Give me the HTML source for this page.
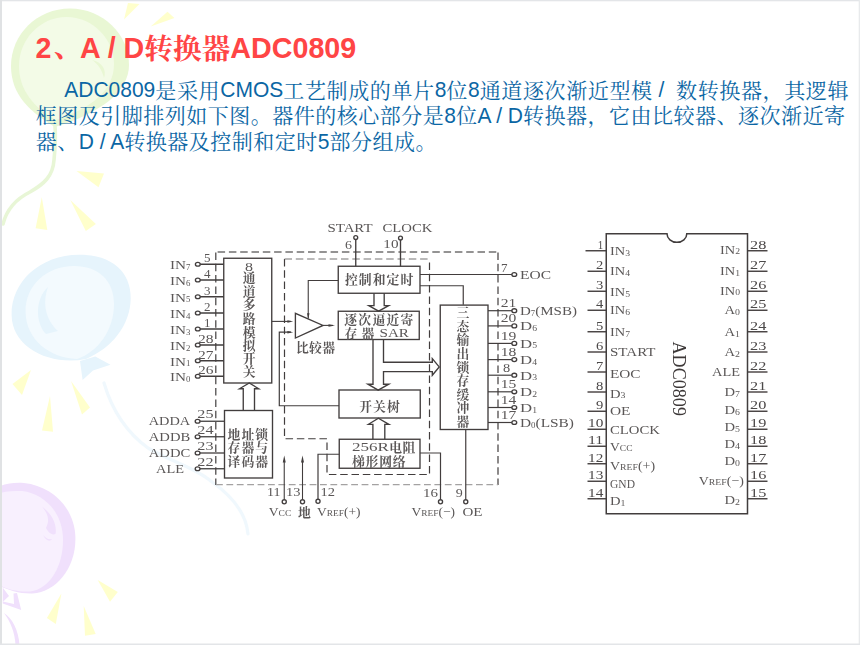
<!DOCTYPE html>
<html><head><meta charset="utf-8"><title>ADC0809</title>
<style>
html,body{margin:0;padding:0;background:#fff}
body{width:860px;height:645px;overflow:hidden;position:relative;font-family:"Liberation Sans",sans-serif}
svg{position:absolute;left:0;top:0;display:block}
text{white-space:pre}
.tc{font-family:"Liberation Sans","Noto Serif CJK SC",serif;font-size:28.67px;font-weight:bold}
.pc{font-family:"Liberation Sans","Noto Serif CJK SC",serif;font-size:21px}
.cj{font-family:"Liberation Serif","Noto Serif CJK SC",serif;font-size:12.8px;font-weight:bold}
</style></head><body>
<svg width="860" height="645" viewBox="0 0 860 645">
<g id="bg"><rect x="0" y="0" width="860" height="645" fill="#ffffff"/>
<path d="M55 127 C30 112 11 95 11 66 C11 34.2 37.4 8.5 70 8.5 C102.6 8.5 129 34.2 129 65 C129 92 100 113 55 127 Z" fill="#e9f7d4"/>
<path d="M56 120 C34 108 19 90 19 66 C19 39 40.3 17 66.5 17 C92.7 17 114 39 114 64 C114 90 92 108 56 120 Z" fill="#f3fbe7"/>
<path d="M92 60 C102 62 107 70 104 78 C102 70 98 64 92 60 Z" fill="#e9f7d4"/>
<path d="M55 126 C56 138 55 150 54 160 C53 176 44 184 30 192 C14 200 6 212 3 224" fill="none" stroke="#e8f6d6" stroke-width="3.6" stroke-linecap="round"/>
<polygon points="128.0,3.0 139.5,4.0 124.0,19.5" fill="#ffffcc"/>
<polygon points="150.7,26.5 167.5,11.7 174.4,18.0" fill="#ffffcc"/>
<polygon points="76.5,170.9 104.0,173.4 98.5,187.3" fill="#ffffcc"/>
<polygon points="41.8,197.2 35.6,228.2 47.3,230.0" fill="#ffffcc"/>
<polygon points="70.3,199.9 95.9,224.1 85.8,230.9" fill="#ffffcc"/>
<path d="M86 359 C50 366 12 348 11.6 315 C11 282 40 255 79 254.8 C112 254.6 131 272 130.7 298.5 C130.4 325 112 348 86 359 Z" fill="#e6f4fc"/>
<path d="M77 359 C50 358 26 340 25.6 312 C25.2 286 46 266 74 266 C98 266 114 280 114 304 C114 330 98 352 77 359 Z" fill="#f3fafe"/>
<path d="M48 287 C34 300 36 324 46 334 L58 331 C46 320 42 304 48 287 Z" fill="#e6f4fc"/>
<path d="M80 361 L95.3 356.6 L110.5 364.8 L93 370.6 L82.6 379.9 Z" fill="#e6f4fc"/>
<path d="M104 383 C112 410 126 432 148 448 C172 462 196 468 212 482 C232 496 246 512 248 534" fill="none" stroke="#f0f8fd" stroke-width="3.2" stroke-linecap="round"/>
<polygon points="12.5,384.0 31.0,370.0 22.0,395.0" fill="#ffffcc"/>
<polygon points="50.0,396.0 42.0,430.6 53.0,431.7" fill="#ffffcc"/>
<polygon points="71.0,381.0 90.0,407.5 82.0,414.4" fill="#ffffcc"/>
<path d="M0 486 C8 483 16 482.5 24 483 C52 486 75 508 75.4 538 C75.8 568 56 592 32.6 593.5 C20 594 8 590 0 586 Z" fill="#f0e0fc"/>
<path d="M0 493 C8 491 14 491 22 491 C46 494 63 514 63 540 C63 566 50 589 30 591.5 C18 592 8 589.5 0 585.5 Z" fill="#f8f0fe"/>
<path d="M42 506.6 C52 514 57 524 55.6 533.8 C52 536 48 532 46 528 C50 520 48 514 42 506.6 Z M43 535 C46 541 50 542 52 539 C48 540 46 538 43 535 Z" fill="#f0e0fc"/>
<path d="M2.7 587.5 L9 596 L2.7 602 Z M13.5 593.5 L17 593 L21.2 610 L2.7 603.5 L2.7 601.5 L14 604 Z" fill="#f0e0fc"/>
<path d="M4 613 C12 618 18.5 630 19.5 645 L15.5 645 C15 632 10 621 4 613 Z" fill="#f0e0fc"/>
<polygon points="97.7,580.0 117.8,592.0 110.0,601.8" fill="#ffffcc"/>
<polygon points="61.4,593.4 46.9,618.0 55.8,624.0" fill="#ffffcc"/>
<polygon points="83.7,606.0 85.0,635.8 95.7,633.9" fill="#ffffcc"/>
<rect x="0" y="0" width="860" height="1.3" fill="#e3e5e8"/>
<rect x="0" y="0" width="2.0" height="645" fill="#e0e2e4"/>
<rect x="858.7" y="0" width="1.3" height="645" fill="#e8eaec"/>
<rect x="0" y="643.5" width="860" height="1.5" fill="#e3e5e8"/></g>
<g fill="#ff4545" font-family="Liberation Sans, sans-serif" aria-label="2"><text transform="translate(35.50 58.40) scale(1 1.040)" font-size="28.67" font-weight="bold" xml:space="preserve">2</text></g>
<g fill="#ff4545"><text class="tc" x="53.74" y="56.80">、</text></g>
<g fill="#ff4545" font-family="Liberation Sans, sans-serif" aria-label="A / D转换器ADC0809"><text transform="translate(80.11 58.40) scale(1 1.040)" font-size="28.67" font-weight="bold" xml:space="preserve">A / D</text><text class="tc" x="144.36" y="58.97">转换器</text><text transform="translate(230.37 58.40) scale(1 1.040)" font-size="28.67" font-weight="bold" xml:space="preserve">ADC0809</text></g>
<g fill="#0b66a4" font-family="Liberation Sans, sans-serif" aria-label="ADC0809是采用CMOS工艺制成的单片8位8通道逐次渐近型模 /  数转换器，其逻辑"><text transform="translate(64.30 97.30) scale(1 1.040)" font-size="21.00" xml:space="preserve">ADC0809</text><text class="pc" x="155.36" y="97.72" letter-spacing="0.63">是采用</text><text transform="translate(220.25 97.30) scale(1 1.040)" font-size="21.00" xml:space="preserve">CMOS</text><text class="pc" x="283.25" y="97.72" letter-spacing="0.63">工艺制成的单片</text><text transform="translate(434.66 97.30) scale(1 1.040)" font-size="21.00" xml:space="preserve">8</text><text class="pc" x="446.33" y="97.72">位</text><text transform="translate(467.96 97.30) scale(1 1.040)" font-size="21.00" xml:space="preserve">8</text><text class="pc" x="479.64" y="97.72" letter-spacing="0.63">通道逐次渐近型模</text><text transform="translate(652.68 97.30) scale(1 1.040)" font-size="21.00" xml:space="preserve"> /  </text><text class="pc" x="676.02" y="97.72" letter-spacing="0.63">数转换器，其逻辑</text></g>
<g fill="#0b66a4" font-family="Liberation Sans, sans-serif" aria-label="框图及引脚排列如下图。器件的核心部分是8位A / D转换器，它由比较器、逐次渐近寄"><text class="pc" x="35.80" y="123.42" letter-spacing="0.5">框图及引脚排列如下图。器件的核心部分是</text><text transform="translate(444.30 123.00) scale(1 1.040)" font-size="21.00" xml:space="preserve">8</text><text class="pc" x="455.98" y="123.42">位</text><text transform="translate(477.48 123.00) scale(1 1.040)" font-size="21.00" xml:space="preserve">A / D</text><text class="pc" x="523.00" y="123.42" letter-spacing="0.5">转换器，它由比较器、逐次渐近寄</text></g>
<g fill="#0b66a4" font-family="Liberation Sans, sans-serif" aria-label="器、D / A转换器及控制和定时5部分组成。"><text class="pc" x="35.80" y="148.92" letter-spacing="0.5">器、</text><text transform="translate(78.80 148.50) scale(1 1.040)" font-size="21.00" xml:space="preserve">D / A</text><text class="pc" x="124.32" y="148.92" letter-spacing="0.5">转换器及控制和定时</text><text transform="translate(317.82 148.50) scale(1 1.040)" font-size="21.00" xml:space="preserve">5</text><text class="pc" x="329.50" y="148.92" letter-spacing="0.5">部分组成。</text></g>
<filter id="soft" filterUnits="userSpaceOnUse" x="0" y="0" width="860" height="645"><feGaussianBlur stdDeviation="0.38"/></filter>
<g font-family="Liberation Serif, serif" filter="url(#soft)"><polyline points="215.80,252.50 215.80,485.00" fill="none" stroke="#423e3e" stroke-width="1.20" stroke-dasharray="7.5 3.8"/>
<polyline points="217.60,252.00 498.00,252.00" fill="none" stroke="#727070" stroke-width="1.45" stroke-dasharray="7.5 3.8"/>
<polyline points="498.00,252.50 498.00,485.00" fill="none" stroke="#423e3e" stroke-width="1.20" stroke-dasharray="7.5 3.8"/>
<polyline points="216.00,484.60 498.00,484.60" fill="none" stroke="#a4a2a2" stroke-width="1.15" stroke-dasharray="6.8 3.6"/>
<polyline points="284.50,259.00 284.50,438.75 327.00,438.75 327.00,474.50 429.50,474.50 429.50,259.00" fill="none" stroke="#423e3e" stroke-width="1.20" stroke-dasharray="7.5 3.8"/>
<polyline points="284.50,259.00 429.50,259.00" fill="none" stroke="#777575" stroke-width="1.05" stroke-dasharray="7.5 3.8"/>
<rect x="223.75" y="258.25" width="48.00" height="124.75" fill="none" stroke="#423e3e" stroke-width="1.35"/>
<rect x="224.50" y="410.50" width="48.00" height="67.50" fill="none" stroke="#423e3e" stroke-width="1.35"/>
<rect x="338.25" y="266.25" width="81.75" height="27.00" fill="none" stroke="#423e3e" stroke-width="1.35"/>
<rect x="338.25" y="311.25" width="81.00" height="28.25" fill="none" stroke="#423e3e" stroke-width="1.35"/>
<rect x="339.00" y="390.00" width="81.25" height="28.00" fill="none" stroke="#423e3e" stroke-width="1.35"/>
<rect x="339.25" y="439.25" width="80.75" height="29.00" fill="none" stroke="#423e3e" stroke-width="1.35"/>
<rect x="440.25" y="305.10" width="47.75" height="124.40" fill="none" stroke="#423e3e" stroke-width="1.35"/>
<polygon points="295.4,313.4 295.4,338.0 323,325.4" fill="none" stroke="#423e3e" stroke-width="1.35"/>
<polyline points="271.75,321.40 291.00,321.40" fill="none" stroke="#423e3e" stroke-width="1.10"/>
<polygon points="293.20,321.40 287.40,320.15 287.40,322.65" fill="#423e3e"/>
<polyline points="339.00,405.75 279.30,405.75 279.30,332.20 291.00,332.20" fill="none" stroke="#423e3e" stroke-width="1.20"/>
<polygon points="293.20,332.20 287.40,330.95 287.40,333.45" fill="#423e3e"/>
<polyline points="323.00,325.40 333.00,325.40" fill="none" stroke="#423e3e" stroke-width="1.10"/>
<polygon points="335.00,325.40 328.50,324.15 328.50,326.65" fill="#423e3e"/>
<polyline points="338.25,280.50 308.25,280.50 308.25,318.50" fill="none" stroke="#423e3e" stroke-width="1.10"/>
<polygon points="308.25,319.00 307.00,313.20 309.50,313.20" fill="#423e3e"/>
<polyline points="355.75,239.50 355.75,266.25" fill="none" stroke="#423e3e" stroke-width="1.35"/>
<ellipse cx="355.75" cy="237.50" rx="1.95" ry="1.95" fill="#fff" stroke="#423e3e" stroke-width="1.35"/>
<polyline points="400.50,240.00 400.50,266.25" fill="none" stroke="#423e3e" stroke-width="1.35"/>
<ellipse cx="400.50" cy="238.00" rx="1.95" ry="1.95" fill="#fff" stroke="#423e3e" stroke-width="1.35"/>
<polyline points="420.00,274.50 512.00,274.50" fill="none" stroke="#423e3e" stroke-width="1.20"/>
<ellipse cx="514.30" cy="274.50" rx="2.40" ry="1.95" fill="#fff" stroke="#423e3e" stroke-width="1.35"/>
<polyline points="420.00,285.75 463.25,285.75 463.25,304.75" fill="none" stroke="#423e3e" stroke-width="1.20"/>
<polyline points="488.00,310.70 512.00,310.70" fill="none" stroke="#423e3e" stroke-width="1.20"/>
<ellipse cx="514.30" cy="310.70" rx="2.40" ry="1.95" fill="#fff" stroke="#423e3e" stroke-width="1.35"/>
<polyline points="488.00,325.90 512.00,325.90" fill="none" stroke="#423e3e" stroke-width="1.20"/>
<ellipse cx="514.30" cy="325.90" rx="2.40" ry="1.95" fill="#fff" stroke="#423e3e" stroke-width="1.35"/>
<polyline points="488.00,343.40 512.00,343.40" fill="none" stroke="#423e3e" stroke-width="1.20"/>
<ellipse cx="514.30" cy="343.40" rx="2.40" ry="1.95" fill="#fff" stroke="#423e3e" stroke-width="1.35"/>
<polyline points="488.00,359.60 512.00,359.60" fill="none" stroke="#423e3e" stroke-width="1.20"/>
<ellipse cx="514.30" cy="359.60" rx="2.40" ry="1.95" fill="#fff" stroke="#423e3e" stroke-width="1.35"/>
<polyline points="488.00,375.20 512.00,375.20" fill="none" stroke="#423e3e" stroke-width="1.20"/>
<ellipse cx="514.30" cy="375.20" rx="2.40" ry="1.95" fill="#fff" stroke="#423e3e" stroke-width="1.35"/>
<polyline points="488.00,391.80 512.00,391.80" fill="none" stroke="#423e3e" stroke-width="1.20"/>
<ellipse cx="514.30" cy="391.80" rx="2.40" ry="1.95" fill="#fff" stroke="#423e3e" stroke-width="1.35"/>
<polyline points="488.00,407.50 512.00,407.50" fill="none" stroke="#423e3e" stroke-width="1.20"/>
<ellipse cx="514.30" cy="407.50" rx="2.40" ry="1.95" fill="#fff" stroke="#423e3e" stroke-width="1.35"/>
<polyline points="488.00,422.50 512.00,422.50" fill="none" stroke="#423e3e" stroke-width="1.20"/>
<ellipse cx="514.30" cy="422.50" rx="2.40" ry="1.95" fill="#fff" stroke="#423e3e" stroke-width="1.35"/>
<polyline points="465.75,429.50 465.75,499.50" fill="none" stroke="#423e3e" stroke-width="1.20"/>
<ellipse cx="465.75" cy="501.75" rx="2.05" ry="2.05" fill="#fff" stroke="#423e3e" stroke-width="1.35"/>
<polyline points="420.00,453.00 440.50,453.00 440.50,499.50" fill="none" stroke="#423e3e" stroke-width="1.20"/>
<ellipse cx="440.50" cy="501.75" rx="2.05" ry="2.05" fill="#fff" stroke="#423e3e" stroke-width="1.35"/>
<polyline points="339.25,454.25 318.00,454.25 318.00,499.00" fill="none" stroke="#423e3e" stroke-width="1.20"/>
<ellipse cx="318.00" cy="501.25" rx="2.05" ry="2.05" fill="#fff" stroke="#423e3e" stroke-width="1.35"/>
<polyline points="284.25,499.50 284.25,460.00" fill="none" stroke="#423e3e" stroke-width="1.10"/>
<polygon points="284.25,455.50 282.75,462.50 285.75,462.50" fill="#423e3e"/>
<ellipse cx="284.25" cy="501.75" rx="2.05" ry="2.05" fill="#fff" stroke="#423e3e" stroke-width="1.35"/>
<polyline points="302.50,499.50 302.50,460.00" fill="none" stroke="#423e3e" stroke-width="1.10"/>
<polygon points="302.50,455.50 301.00,462.50 304.00,462.50" fill="#423e3e"/>
<ellipse cx="302.50" cy="501.75" rx="2.05" ry="2.05" fill="#fff" stroke="#423e3e" stroke-width="1.35"/>
<polyline points="200.00,264.25 223.75,264.25" fill="none" stroke="#423e3e" stroke-width="1.50"/>
<ellipse cx="197.80" cy="264.25" rx="2.40" ry="1.95" fill="#fff" stroke="#423e3e" stroke-width="1.35"/>
<polyline points="200.00,280.00 223.75,280.00" fill="none" stroke="#423e3e" stroke-width="1.50"/>
<ellipse cx="197.80" cy="280.00" rx="2.40" ry="1.95" fill="#fff" stroke="#423e3e" stroke-width="1.35"/>
<polyline points="200.00,296.75 223.75,296.75" fill="none" stroke="#423e3e" stroke-width="1.50"/>
<ellipse cx="197.80" cy="296.75" rx="2.40" ry="1.95" fill="#fff" stroke="#423e3e" stroke-width="1.35"/>
<polyline points="200.00,313.00 223.75,313.00" fill="none" stroke="#423e3e" stroke-width="1.50"/>
<ellipse cx="197.80" cy="313.00" rx="2.40" ry="1.95" fill="#fff" stroke="#423e3e" stroke-width="1.35"/>
<polyline points="200.00,329.00 223.75,329.00" fill="none" stroke="#423e3e" stroke-width="1.50"/>
<ellipse cx="197.80" cy="329.00" rx="2.40" ry="1.95" fill="#fff" stroke="#423e3e" stroke-width="1.35"/>
<polyline points="200.00,345.00 223.75,345.00" fill="none" stroke="#423e3e" stroke-width="1.50"/>
<ellipse cx="197.80" cy="345.00" rx="2.40" ry="1.95" fill="#fff" stroke="#423e3e" stroke-width="1.35"/>
<polyline points="200.00,360.75 223.75,360.75" fill="none" stroke="#423e3e" stroke-width="1.50"/>
<ellipse cx="197.80" cy="360.75" rx="2.40" ry="1.95" fill="#fff" stroke="#423e3e" stroke-width="1.35"/>
<polyline points="200.00,376.25 223.75,376.25" fill="none" stroke="#423e3e" stroke-width="1.50"/>
<ellipse cx="197.80" cy="376.25" rx="2.40" ry="1.95" fill="#fff" stroke="#423e3e" stroke-width="1.35"/>
<polyline points="200.00,421.25 224.50,421.25" fill="none" stroke="#423e3e" stroke-width="1.30"/>
<ellipse cx="197.60" cy="421.25" rx="2.40" ry="1.95" fill="#fff" stroke="#423e3e" stroke-width="1.35"/>
<polyline points="200.00,436.75 224.50,436.75" fill="none" stroke="#423e3e" stroke-width="1.30"/>
<ellipse cx="197.60" cy="436.75" rx="2.40" ry="1.95" fill="#fff" stroke="#423e3e" stroke-width="1.35"/>
<polyline points="200.00,453.00 224.50,453.00" fill="none" stroke="#423e3e" stroke-width="1.30"/>
<ellipse cx="197.60" cy="453.00" rx="2.40" ry="1.95" fill="#fff" stroke="#423e3e" stroke-width="1.35"/>
<polyline points="200.00,468.75 224.50,468.75" fill="none" stroke="#423e3e" stroke-width="1.30"/>
<ellipse cx="197.60" cy="468.75" rx="2.40" ry="1.95" fill="#fff" stroke="#423e3e" stroke-width="1.35"/>
<polyline points="374.00,293.25 374.00,305.60 368.80,305.60 378.60,311.20 388.70,305.60 384.20,305.60 384.20,293.25" fill="none" stroke="#423e3e" stroke-width="1.35"/>
<polyline points="373.00,339.50 373.00,384.20 367.90,384.20 378.20,390.10 388.80,384.20 383.50,384.20 383.50,371.60 432.30,371.60 432.30,375.30 439.20,366.90 432.30,358.60 432.30,362.20 383.50,362.20 383.50,339.50" fill="none" stroke="#423e3e" stroke-width="1.35"/>
<polyline points="372.90,439.25 372.90,424.30 368.50,424.30 378.40,418.20 388.90,424.30 384.80,424.30 384.80,439.25" fill="none" stroke="#423e3e" stroke-width="1.35"/>
<polyline points="243.25,410.50 243.25,388.75 239.50,388.75 249.25,383.00 258.75,388.75 254.50,388.75 254.50,410.50" fill="none" stroke="#423e3e" stroke-width="1.35"/>
<g fill="#5a5757" aria-label="IN7"><text transform="translate(170.00 269.05) scale(1.21 1)" font-size="12.6">IN<tspan font-size="7.29" dy="0.7">7</tspan></text></g>
<g fill="#5a5757" aria-label="IN6"><text transform="translate(170.00 284.80) scale(1.21 1)" font-size="12.6">IN<tspan font-size="7.29" dy="0.7">6</tspan></text></g>
<g fill="#5a5757" aria-label="IN5"><text transform="translate(170.00 301.55) scale(1.21 1)" font-size="12.6">IN<tspan font-size="7.29" dy="0.7">5</tspan></text></g>
<g fill="#5a5757" aria-label="IN4"><text transform="translate(170.00 317.80) scale(1.21 1)" font-size="12.6">IN<tspan font-size="7.29" dy="0.7">4</tspan></text></g>
<g fill="#5a5757" aria-label="IN3"><text transform="translate(170.00 333.80) scale(1.21 1)" font-size="12.6">IN<tspan font-size="7.29" dy="0.7">3</tspan></text></g>
<g fill="#5a5757" aria-label="IN2"><text transform="translate(170.00 349.80) scale(1.21 1)" font-size="12.6">IN<tspan font-size="7.29" dy="0.7">2</tspan></text></g>
<g fill="#5a5757" aria-label="IN1"><text transform="translate(170.00 365.55) scale(1.21 1)" font-size="12.6">IN<tspan font-size="7.29" dy="0.7">1</tspan></text></g>
<g fill="#5a5757" aria-label="IN0"><text transform="translate(170.00 381.05) scale(1.21 1)" font-size="12.6">IN<tspan font-size="7.29" dy="0.7">0</tspan></text></g>
<g fill="#5a5757" aria-label="ADDA"><text transform="translate(148.75 425.25) scale(1.14 1)" font-size="12.6">ADDA</text></g>
<g fill="#5a5757" aria-label="ADDB"><text transform="translate(148.75 440.75) scale(1.163 1)" font-size="12.6">ADDB</text></g>
<g fill="#5a5757" aria-label="ADDC"><text transform="translate(148.75 457.00) scale(1.163 1)" font-size="12.6">ADDC</text></g>
<g fill="#5a5757" aria-label="ALE"><text transform="translate(156.00 472.75) scale(1.143 1)" font-size="12.6">ALE</text></g>
<g fill="#5a5757" aria-label="START"><text transform="translate(327.50 232.00) scale(1.18 1)" font-size="12.6">START</text></g>
<g fill="#5a5757" aria-label="CLOCK"><text transform="translate(382.50 232.00) scale(1.171 1)" font-size="12.6">CLOCK</text></g>
<g fill="#5a5757" aria-label="EOC"><text transform="translate(520.00 279.00) scale(1.231 1)" font-size="12.6">EOC</text></g>
<g fill="#5a5757" aria-label="D7(MSB)"><text transform="translate(520.00 315.00) scale(1.193 1)" font-size="12.6">D<tspan font-size="7.29" dy="0.7">7</tspan><tspan dy="-0.7">(MSB)</tspan></text></g>
<g fill="#5a5757" aria-label="D6"><text transform="translate(520.00 330.20) scale(1.333 1)" font-size="12.6">D<tspan font-size="7.29" dy="0.7">6</tspan></text></g>
<g fill="#5a5757" aria-label="D5"><text transform="translate(520.00 347.70) scale(1.333 1)" font-size="12.6">D<tspan font-size="7.29" dy="0.7">5</tspan></text></g>
<g fill="#5a5757" aria-label="D4"><text transform="translate(520.00 363.90) scale(1.333 1)" font-size="12.6">D<tspan font-size="7.29" dy="0.7">4</tspan></text></g>
<g fill="#5a5757" aria-label="D3"><text transform="translate(520.00 379.50) scale(1.333 1)" font-size="12.6">D<tspan font-size="7.29" dy="0.7">3</tspan></text></g>
<g fill="#5a5757" aria-label="D2"><text transform="translate(520.00 396.10) scale(1.333 1)" font-size="12.6">D<tspan font-size="7.29" dy="0.7">2</tspan></text></g>
<g fill="#5a5757" aria-label="D1"><text transform="translate(520.00 411.80) scale(1.333 1)" font-size="12.6">D<tspan font-size="7.29" dy="0.7">1</tspan></text></g>
<g fill="#5a5757" aria-label="D0(LSB)"><text transform="translate(520.00 426.80) scale(1.221 1)" font-size="12.6">D<tspan font-size="7.29" dy="0.7">0</tspan><tspan dy="-0.7">(LSB)</tspan></text></g>
<g fill="#5a5757" aria-label="VCC"><text transform="translate(268.75 516.30) scale(1.08 1)" font-size="12.6">V<tspan font-size="8.81">CC</tspan></text></g>
<g fill="#5a5757" aria-label="VREF(+)"><text transform="translate(317.00 516.30) scale(1.068 1)" font-size="12.6">V<tspan font-size="8.81">REF</tspan>(+)</text></g>
<g fill="#5a5757" aria-label="VREF(−)"><text transform="translate(411.50 516.30) scale(1.068 1)" font-size="12.6">V<tspan font-size="8.81">REF</tspan>(−)</text></g>
<g fill="#5a5757" aria-label="OE"><text transform="translate(462.50 516.30) scale(1.192 1)" font-size="12.6">OE</text></g>
<g fill="#5a5757" aria-label="5"><text x="204.05" y="262.45" font-size="13">5</text></g>
<g fill="#5a5757" aria-label="4"><text x="204.05" y="278.20" font-size="13">4</text></g>
<g fill="#5a5757" aria-label="3"><text x="204.05" y="294.95" font-size="13">3</text></g>
<g fill="#5a5757" aria-label="2"><text x="204.05" y="311.20" font-size="13">2</text></g>
<g fill="#5a5757" aria-label="1"><text x="204.05" y="327.20" font-size="13">1</text></g>
<g fill="#5a5757" aria-label="28"><text transform="translate(198.00 343.20) scale(1.192 1)" font-size="13">28</text></g>
<g fill="#5a5757" aria-label="27"><text transform="translate(198.00 358.95) scale(1.192 1)" font-size="13">27</text></g>
<g fill="#5a5757" aria-label="26"><text transform="translate(198.00 374.45) scale(1.192 1)" font-size="13">26</text></g>
<g fill="#5a5757" aria-label="25"><text transform="translate(197.30 418.45) scale(1.246 1)" font-size="13">25</text></g>
<g fill="#5a5757" aria-label="24"><text transform="translate(197.30 433.95) scale(1.246 1)" font-size="13">24</text></g>
<g fill="#5a5757" aria-label="23"><text transform="translate(197.30 450.20) scale(1.246 1)" font-size="13">23</text></g>
<g fill="#5a5757" aria-label="22"><text transform="translate(197.30 465.95) scale(1.246 1)" font-size="13">22</text></g>
<g fill="#5a5757" aria-label="6"><text transform="translate(345.00 248.70) scale(1.077 1)" font-size="13">6</text></g>
<g fill="#5a5757" aria-label="10"><text transform="translate(383.30 248.20) scale(1.169 1)" font-size="13">10</text></g>
<g fill="#5a5757" aria-label="7"><text x="501.00" y="272.00" font-size="13">7</text></g>
<g fill="#5a5757" aria-label="21"><text transform="translate(500.80 307.10) scale(1.2 1)" font-size="13">21</text></g>
<g fill="#5a5757" aria-label="20"><text transform="translate(500.80 322.30) scale(1.2 1)" font-size="13">20</text></g>
<g fill="#5a5757" aria-label="19"><text transform="translate(500.80 339.80) scale(1.2 1)" font-size="13">19</text></g>
<g fill="#5a5757" aria-label="18"><text transform="translate(500.80 356.00) scale(1.2 1)" font-size="13">18</text></g>
<g fill="#5a5757" aria-label="8"><text transform="translate(503.00 371.60) scale(1.107 1)" font-size="13">8</text></g>
<g fill="#5a5757" aria-label="15"><text transform="translate(500.80 388.20) scale(1.2 1)" font-size="13">15</text></g>
<g fill="#5a5757" aria-label="14"><text transform="translate(500.80 403.90) scale(1.2 1)" font-size="13">14</text></g>
<g fill="#5a5757" aria-label="17"><text transform="translate(500.80 418.90) scale(1.2 1)" font-size="13">17</text></g>
<g fill="#5a5757" aria-label="11"><text transform="translate(267.00 496.30) scale(1.079 1)" font-size="13">11</text></g>
<g fill="#5a5757" aria-label="13"><text transform="translate(286.00 496.30) scale(1.115 1)" font-size="13">13</text></g>
<g fill="#5a5757" aria-label="12"><text transform="translate(320.50 496.30) scale(1.115 1)" font-size="13">12</text></g>
<g fill="#5a5757" aria-label="16"><text transform="translate(423.00 496.70) scale(1.153 1)" font-size="13">16</text></g>
<g fill="#5a5757" aria-label="9"><text transform="translate(455.75 496.70) scale(1.077 1)" font-size="13">9</text></g>
<g fill="#5a5757" aria-label="通道多路模拟开关"><text class="cj"><tspan x="242.85" y="281.66">通</tspan><tspan x="242.85" y="296.40">道</tspan><tspan x="242.85" y="309.24">多</tspan><tspan x="242.85" y="323.38">路</tspan><tspan x="242.85" y="337.02">模</tspan><tspan x="242.85" y="350.06">拟</tspan><tspan x="242.85" y="363.10">开</tspan><tspan x="242.85" y="376.14">关</tspan></text></g>
<g fill="#5a5757" aria-label="8"><text transform="translate(245.00 270.90) scale(1.291 1)" font-size="12.39">8</text></g>
<g fill="#5a5757" aria-label="三态输出锁存缓冲器"><text class="cj"><tspan x="456.40" y="317.16">三</tspan><tspan x="456.40" y="330.76">态</tspan><tspan x="456.40" y="344.36">输</tspan><tspan x="456.40" y="357.96">出</tspan><tspan x="456.40" y="371.56">锁</tspan><tspan x="456.40" y="385.16">存</tspan><tspan x="456.40" y="398.76">缓</tspan><tspan x="456.40" y="412.36">冲</tspan><tspan x="456.40" y="425.96">器</tspan></text></g>
<g fill="#5a5757" aria-label="控制和定时"><text class="cj" x="344.90 358.80 372.70 386.60 400.50" y="284.30">控制和定时</text></g>
<g fill="#5a5757" aria-label="逐次逼近寄"><text class="cj" x="344.20 358.30 372.40 386.50 400.60" y="324.30">逐次逼近寄</text></g>
<g fill="#5a5757" aria-label="存 器"><text class="cj" x="344.60 361.60" y="337.60">存器</text></g>
<g fill="#5a5757" aria-label="SAR"><text transform="translate(379.50 337.20) scale(1.213 1)" font-size="12.49">SAR</text></g>
<g fill="#5a5757" aria-label="比较器"><text class="cj" x="296.00 309.10 322.20" y="352.30">比较器</text></g>
<g fill="#5a5757" aria-label="开关树"><text class="cj" x="359.20 373.10 387.00" y="410.80">开关树</text></g>
<g fill="#5a5757" aria-label="256R"><text transform="translate(352.00 451.30) scale(1.367 1)" font-size="12.49">256R</text></g>
<g fill="#5a5757" aria-label="电阻"><text class="cj" x="389.30 402.50" y="451.80">电阻</text></g>
<g fill="#5a5757" aria-label="梯形网络"><text class="cj" x="352.00 365.60 379.20 392.80" y="465.80">梯形网络</text></g>
<g fill="#5a5757" aria-label="地址锁"><text class="cj" x="227.50 241.40 255.30" y="438.50">地址锁</text></g>
<g fill="#5a5757" aria-label="存器与"><text class="cj" x="227.50 241.40 255.30" y="452.20">存器与</text></g>
<g fill="#5a5757" aria-label="译码器"><text class="cj" x="227.50 241.40 255.30" y="466.00">译码器</text></g>
<g fill="#5a5757" aria-label="地"><text class="cj" x="298.00" y="516.60">地</text></g>
<path d="M606.25 233.75 H667.00 A9.9 8.6 0 0 0 686.80 233.75 H747.50 V513.75 H606.25 Z" fill="none" stroke="#423e3e" stroke-width="1.5"/>
<polyline points="585.50,250.75 606.25,250.75" fill="none" stroke="#423e3e" stroke-width="1.40"/>
<polyline points="747.50,250.75 767.50,250.75" fill="none" stroke="#423e3e" stroke-width="1.40"/>
<g fill="#4c4848" aria-label="1"><text transform="translate(597.80 248.55) scale(0.859 1)" font-size="12.8">1</text></g>
<g fill="#4c4848" aria-label="28"><text transform="translate(750.00 248.55) scale(1.274 1)" font-size="12.8">28</text></g>
<g fill="#5a5757" aria-label="IN3"><text transform="translate(610.00 254.95) scale(1.14 1)" font-size="12.6">IN<tspan font-size="8.5" dy="0.7">3</tspan></text></g>
<g fill="#5a5757" aria-label="IN2"><text transform="translate(720.00 253.75) scale(1.14 1)" font-size="12.6">IN<tspan font-size="8.5" dy="0.7">2</tspan></text></g>
<polyline points="587.50,271.25 606.25,271.25" fill="none" stroke="#423e3e" stroke-width="1.40"/>
<polyline points="747.50,271.25 767.50,271.25" fill="none" stroke="#423e3e" stroke-width="1.40"/>
<g fill="#4c4848" aria-label="2"><text transform="translate(596.00 269.05) scale(1.141 1)" font-size="12.8">2</text></g>
<g fill="#4c4848" aria-label="27"><text transform="translate(750.00 269.05) scale(1.274 1)" font-size="12.8">27</text></g>
<g fill="#5a5757" aria-label="IN4"><text transform="translate(610.00 275.45) scale(1.14 1)" font-size="12.6">IN<tspan font-size="8.5" dy="0.7">4</tspan></text></g>
<g fill="#5a5757" aria-label="IN1"><text transform="translate(720.00 275.45) scale(1.14 1)" font-size="12.6">IN<tspan font-size="8.5" dy="0.7">1</tspan></text></g>
<polyline points="587.50,291.25 606.25,291.25" fill="none" stroke="#423e3e" stroke-width="1.40"/>
<polyline points="747.50,291.25 767.50,291.25" fill="none" stroke="#423e3e" stroke-width="1.40"/>
<g fill="#4c4848" aria-label="3"><text transform="translate(596.00 289.05) scale(1.141 1)" font-size="12.8">3</text></g>
<g fill="#4c4848" aria-label="26"><text transform="translate(750.00 289.05) scale(1.274 1)" font-size="12.8">26</text></g>
<g fill="#5a5757" aria-label="IN5"><text transform="translate(610.00 295.95) scale(1.14 1)" font-size="12.6">IN<tspan font-size="8.5" dy="0.7">5</tspan></text></g>
<g fill="#5a5757" aria-label="IN0"><text transform="translate(720.00 294.75) scale(1.14 1)" font-size="12.6">IN<tspan font-size="8.5" dy="0.7">0</tspan></text></g>
<polyline points="587.50,310.25 606.25,310.25" fill="none" stroke="#423e3e" stroke-width="1.40"/>
<polyline points="747.50,310.25 767.50,310.25" fill="none" stroke="#423e3e" stroke-width="1.40"/>
<g fill="#4c4848" aria-label="4"><text transform="translate(596.00 308.05) scale(1.141 1)" font-size="12.8">4</text></g>
<g fill="#4c4848" aria-label="25"><text transform="translate(750.00 308.05) scale(1.274 1)" font-size="12.8">25</text></g>
<g fill="#5a5757" aria-label="IN6"><text transform="translate(610.00 314.45) scale(1.14 1)" font-size="12.6">IN<tspan font-size="8.5" dy="0.7">6</tspan></text></g>
<g fill="#5a5757" aria-label="A0"><text transform="translate(724.50 314.45) scale(1.161 1)" font-size="12.6">A<tspan font-size="8.5" dy="0.7">0</tspan></text></g>
<polyline points="587.50,331.75 606.25,331.75" fill="none" stroke="#423e3e" stroke-width="1.40"/>
<polyline points="747.50,331.75 767.50,331.75" fill="none" stroke="#423e3e" stroke-width="1.40"/>
<g fill="#4c4848" aria-label="5"><text transform="translate(596.00 329.55) scale(1.141 1)" font-size="12.8">5</text></g>
<g fill="#4c4848" aria-label="24"><text transform="translate(750.00 329.55) scale(1.274 1)" font-size="12.8">24</text></g>
<g fill="#5a5757" aria-label="IN7"><text transform="translate(610.00 336.45) scale(1.14 1)" font-size="12.6">IN<tspan font-size="8.5" dy="0.7">7</tspan></text></g>
<g fill="#5a5757" aria-label="A1"><text transform="translate(724.50 335.95) scale(1.161 1)" font-size="12.6">A<tspan font-size="8.5" dy="0.7">1</tspan></text></g>
<polyline points="587.50,352.00 606.25,352.00" fill="none" stroke="#423e3e" stroke-width="1.40"/>
<polyline points="747.50,352.00 767.50,352.00" fill="none" stroke="#423e3e" stroke-width="1.40"/>
<g fill="#4c4848" aria-label="6"><text transform="translate(596.00 349.80) scale(1.141 1)" font-size="12.8">6</text></g>
<g fill="#4c4848" aria-label="23"><text transform="translate(750.00 349.80) scale(1.274 1)" font-size="12.8">23</text></g>
<g fill="#5a5757" aria-label="START"><text transform="translate(610.00 356.25) scale(1.193 1)" font-size="12.6">START</text></g>
<g fill="#5a5757" aria-label="A2"><text transform="translate(724.50 356.20) scale(1.161 1)" font-size="12.6">A<tspan font-size="8.5" dy="0.7">2</tspan></text></g>
<polyline points="587.50,372.00 606.25,372.00" fill="none" stroke="#423e3e" stroke-width="1.40"/>
<polyline points="747.50,372.00 767.50,372.00" fill="none" stroke="#423e3e" stroke-width="1.40"/>
<g fill="#4c4848" aria-label="7"><text transform="translate(596.00 369.80) scale(1.141 1)" font-size="12.8">7</text></g>
<g fill="#4c4848" aria-label="22"><text transform="translate(750.00 369.80) scale(1.274 1)" font-size="12.8">22</text></g>
<g fill="#5a5757" aria-label="EOC"><text transform="translate(610.00 378.00) scale(1.211 1)" font-size="12.6">EOC</text></g>
<g fill="#5a5757" aria-label="ALE"><text transform="translate(712.00 376.20) scale(1.143 1)" font-size="12.6">ALE</text></g>
<polyline points="587.50,392.00 606.25,392.00" fill="none" stroke="#423e3e" stroke-width="1.40"/>
<polyline points="747.50,392.00 767.50,392.00" fill="none" stroke="#423e3e" stroke-width="1.40"/>
<g fill="#4c4848" aria-label="8"><text transform="translate(596.00 389.80) scale(1.141 1)" font-size="12.8">8</text></g>
<g fill="#4c4848" aria-label="21"><text transform="translate(750.00 389.80) scale(1.274 1)" font-size="12.8">21</text></g>
<g fill="#5a5757" aria-label="D3"><text transform="translate(610.00 397.50) scale(1.161 1)" font-size="12.6">D<tspan font-size="8.5" dy="0.7">3</tspan></text></g>
<g fill="#5a5757" aria-label="D7"><text transform="translate(724.50 396.20) scale(1.161 1)" font-size="12.6">D<tspan font-size="8.5" dy="0.7">7</tspan></text></g>
<polyline points="587.50,411.25 606.25,411.25" fill="none" stroke="#423e3e" stroke-width="1.40"/>
<polyline points="747.50,411.25 767.50,411.25" fill="none" stroke="#423e3e" stroke-width="1.40"/>
<g fill="#4c4848" aria-label="9"><text transform="translate(596.00 409.05) scale(1.141 1)" font-size="12.8">9</text></g>
<g fill="#4c4848" aria-label="20"><text transform="translate(750.00 409.05) scale(1.274 1)" font-size="12.8">20</text></g>
<g fill="#5a5757" aria-label="OE"><text transform="translate(610.00 414.95) scale(1.221 1)" font-size="12.6">OE</text></g>
<g fill="#5a5757" aria-label="D6"><text transform="translate(724.50 413.95) scale(1.161 1)" font-size="12.6">D<tspan font-size="8.5" dy="0.7">6</tspan></text></g>
<polyline points="587.50,429.25 606.25,429.25" fill="none" stroke="#423e3e" stroke-width="1.40"/>
<polyline points="747.50,429.25 767.50,429.25" fill="none" stroke="#423e3e" stroke-width="1.40"/>
<g fill="#4c4848" aria-label="10"><text transform="translate(588.00 427.05) scale(1.195 1)" font-size="12.8">10</text></g>
<g fill="#4c4848" aria-label="19"><text transform="translate(750.00 427.05) scale(1.274 1)" font-size="12.8">19</text></g>
<g fill="#5a5757" aria-label="CLOCK"><text transform="translate(610.00 433.50) scale(1.171 1)" font-size="12.6">CLOCK</text></g>
<g fill="#5a5757" aria-label="D5"><text transform="translate(724.50 431.45) scale(1.161 1)" font-size="12.6">D<tspan font-size="8.5" dy="0.7">5</tspan></text></g>
<polyline points="587.50,446.25 606.25,446.25" fill="none" stroke="#423e3e" stroke-width="1.40"/>
<polyline points="747.50,446.25 767.50,446.25" fill="none" stroke="#423e3e" stroke-width="1.40"/>
<g fill="#4c4848" aria-label="11"><text transform="translate(588.00 444.05) scale(1.242 1)" font-size="12.8">11</text></g>
<g fill="#4c4848" aria-label="18"><text transform="translate(750.00 444.05) scale(1.274 1)" font-size="12.8">18</text></g>
<g fill="#5a5757" aria-label="VCC"><text transform="translate(610.00 451.45) scale(1.08 1)" font-size="12.6">V<tspan font-size="8.81">CC</tspan></text></g>
<g fill="#5a5757" aria-label="D4"><text transform="translate(724.50 448.45) scale(1.161 1)" font-size="12.6">D<tspan font-size="8.5" dy="0.7">4</tspan></text></g>
<polyline points="587.50,463.75 606.25,463.75" fill="none" stroke="#423e3e" stroke-width="1.40"/>
<polyline points="747.50,463.75 767.50,463.75" fill="none" stroke="#423e3e" stroke-width="1.40"/>
<g fill="#4c4848" aria-label="12"><text transform="translate(588.00 461.55) scale(1.195 1)" font-size="12.8">12</text></g>
<g fill="#4c4848" aria-label="17"><text transform="translate(750.00 461.55) scale(1.274 1)" font-size="12.8">17</text></g>
<g fill="#5a5757" aria-label="VREF(+)"><text transform="translate(610.00 469.75) scale(1.106 1)" font-size="12.6">V<tspan font-size="8.81">REF</tspan>(+)</text></g>
<g fill="#5a5757" aria-label="D0"><text transform="translate(724.50 464.95) scale(1.161 1)" font-size="12.6">D<tspan font-size="8.5" dy="0.7">0</tspan></text></g>
<polyline points="587.50,481.25 606.25,481.25" fill="none" stroke="#423e3e" stroke-width="1.40"/>
<polyline points="747.50,481.25 767.50,481.25" fill="none" stroke="#423e3e" stroke-width="1.40"/>
<g fill="#4c4848" aria-label="13"><text transform="translate(588.00 479.05) scale(1.195 1)" font-size="12.8">13</text></g>
<g fill="#4c4848" aria-label="16"><text transform="translate(750.00 479.05) scale(1.274 1)" font-size="12.8">16</text></g>
<g fill="#5a5757" aria-label="GND"><text transform="translate(610.00 487.75) scale(0.915 1)" font-size="12.6">GND</text></g>
<g fill="#5a5757" aria-label="VREF(−)"><text transform="translate(698.75 485.45) scale(1.106 1)" font-size="12.6">V<tspan font-size="8.81">REF</tspan>(−)</text></g>
<polyline points="587.50,498.75 606.25,498.75" fill="none" stroke="#423e3e" stroke-width="1.40"/>
<polyline points="747.50,498.75 767.50,498.75" fill="none" stroke="#423e3e" stroke-width="1.40"/>
<g fill="#4c4848" aria-label="14"><text transform="translate(588.00 496.55) scale(1.195 1)" font-size="12.8">14</text></g>
<g fill="#4c4848" aria-label="15"><text transform="translate(750.00 496.55) scale(1.274 1)" font-size="12.8">15</text></g>
<g fill="#5a5757" aria-label="D1"><text transform="translate(610.00 505.25) scale(1.161 1)" font-size="12.6">D<tspan font-size="8.5" dy="0.7">1</tspan></text></g>
<g fill="#5a5757" aria-label="D2"><text transform="translate(724.50 503.95) scale(1.161 1)" font-size="12.6">D<tspan font-size="8.5" dy="0.7">2</tspan></text></g>
<g transform="translate(673.3 341.5) rotate(90)" fill="#3c3838" aria-label="ADC0809"><text transform="scale(0.98 1)" x="0" y="0" font-size="18.49">ADC0809</text></g></g>
</svg>
</body></html>
